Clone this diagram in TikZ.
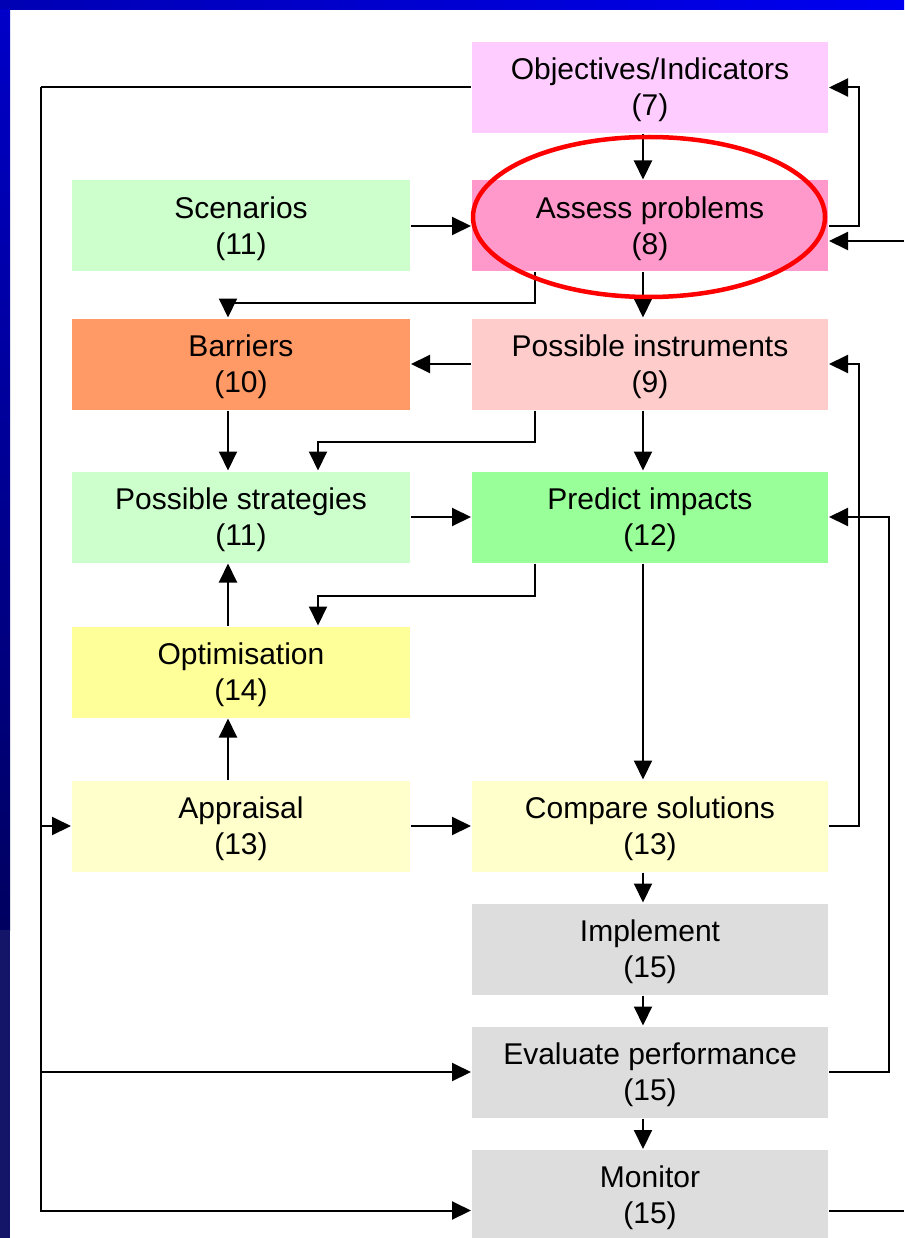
\documentclass[tikz,border=0pt]{standalone}
\usepackage{fontspec}
\setmainfont{Liberation Sans}
\usetikzlibrary{arrows.meta}

\definecolor{objcol}{HTML}{FFCCFF}
\definecolor{scencol}{HTML}{CCFFCC}
\definecolor{assesscol}{HTML}{FF99CC}
\definecolor{barrcol}{HTML}{FF9966}
\definecolor{instrcol}{HTML}{FFCCCC}
\definecolor{predcol}{HTML}{99FF99}
\definecolor{optimcol}{HTML}{FFFF99}
\definecolor{apprcol}{HTML}{FFFFCC}
\definecolor{implcol}{HTML}{DDDDDD}
\definecolor{bandL}{RGB}{0,0,180}
\definecolor{bandR}{RGB}{0,0,240}
\definecolor{bandT}{RGB}{0,0,200}
\definecolor{bandB}{RGB}{0,0,96}
\definecolor{bandN}{RGB}{20,20,104}

\begin{document}
\begin{tikzpicture}[x=1pt,y=-1pt,>={Triangle[length=19pt,width=18pt]},line width=2pt,
    box/.style={minimum height=91pt,inner sep=0pt,align=center,
        text height=63pt,text depth=6.5pt,
        font=\fontsize{30}{36}\selectfont},
    lbox/.style={box,minimum width=338pt},
    rbox/.style={box,minimum width=356pt}]
\useasboundingbox (0,0) rectangle (904,1238);
\fill[white] (0,0) rectangle (904,1238);
\shade[left color=bandL,right color=bandR] (0,0) rectangle (904,10);
\shade[top color=bandT,bottom color=bandB] (0,10) rectangle (10,930);
\fill[bandN] (0,930) rectangle (10,1238);

\node[rbox,fill=objcol] (obj) at (650,87.5) {Objectives/Indicators\\(7)};
\node[lbox,fill=scencol] (scen) at (241,226) {Scenarios\\(11)};
\node[rbox,fill=assesscol] (assess) at (650,226) {Assess problems\\(8)};
\node[lbox,fill=barrcol] (barr) at (241,364) {Barriers\\(10)};
\node[rbox,fill=instrcol] (instr) at (650,364) {Possible instruments\\(9)};
\node[lbox,fill=scencol] (strat) at (241,517) {Possible strategies\\(11)};
\node[rbox,fill=predcol] (pred) at (650,517) {Predict impacts\\(12)};
\node[lbox,fill=optimcol] (optim) at (241,672) {Optimisation\\(14)};
\node[lbox,fill=apprcol] (appr) at (241,826) {Appraisal\\(13)};
\node[rbox,fill=apprcol] (comp) at (650,826) {Compare solutions\\(13)};
\node[rbox,fill=implcol] (impl) at (650,949) {Implement\\(15)};
\node[rbox,fill=implcol] (eval) at (650,1072) {Evaluate performance\\(15)};
\node[rbox,fill=implcol] (mon) at (650,1195.5) {Monitor\\(15)};

\coordinate (bus) at (41,87.5);
\coordinate (inR) at (904,241);
\coordinate (outR) at (904,1210.5);

% main column
\foreach \a/\b in {obj/assess,assess/instr,instr/pred,pred/comp,comp/impl,impl/eval,eval/mon}
    \draw[->] ([xshift=-7pt]\a.south) -- ([xshift=-7pt]\b.north);
\draw[->] (scen.east) -- (assess.west);
\draw[->] (instr.west) -- (barr.east);
\draw[->] (strat.east) -- (pred.west);
\draw[->] (appr.east) -- (comp.west);
\draw[->] ([xshift=-13pt]barr.south) -- ([xshift=-13pt]strat.north);
\draw[->] ([xshift=-13pt]optim.north) -- ([xshift=-13pt]strat.south);
\draw[->] ([xshift=-13pt]appr.north) -- ([xshift=-13pt]optim.south);
\draw[->] ([xshift=-115pt]assess.south) -- ++(0,30) -| ([xshift=-13pt]barr.north);
\draw[->] ([xshift=-115pt]instr.south) -- ++(0,31) -| ([xshift=77pt]strat.north);
\draw[->] ([xshift=-115pt]pred.south) -- ++(0,32) -| ([xshift=77pt]optim.north);

% feedback loops
\draw[->] (assess.east) -- ++(30,0) |- (obj.east);
\draw[->] (comp.east) -- ++(30,0) |- (instr.east);
\draw[->] (eval.east) -- ++(60,0) |- (pred.east);
\draw[->] (inR) -- ([yshift=-15pt]assess.east);
\draw ([yshift=-15pt]mon.east) -- (outR);
\draw (obj.west) -- (bus);
\draw[->] (bus) |- (appr.west);
\draw[->] (bus) |- (eval.west);
\draw[->] (bus) |- ([yshift=-15pt]mon.west);

\draw[red,line width=4.5pt] (649,217) ellipse [x radius=176,y radius=80];
\end{tikzpicture}
\end{document}
